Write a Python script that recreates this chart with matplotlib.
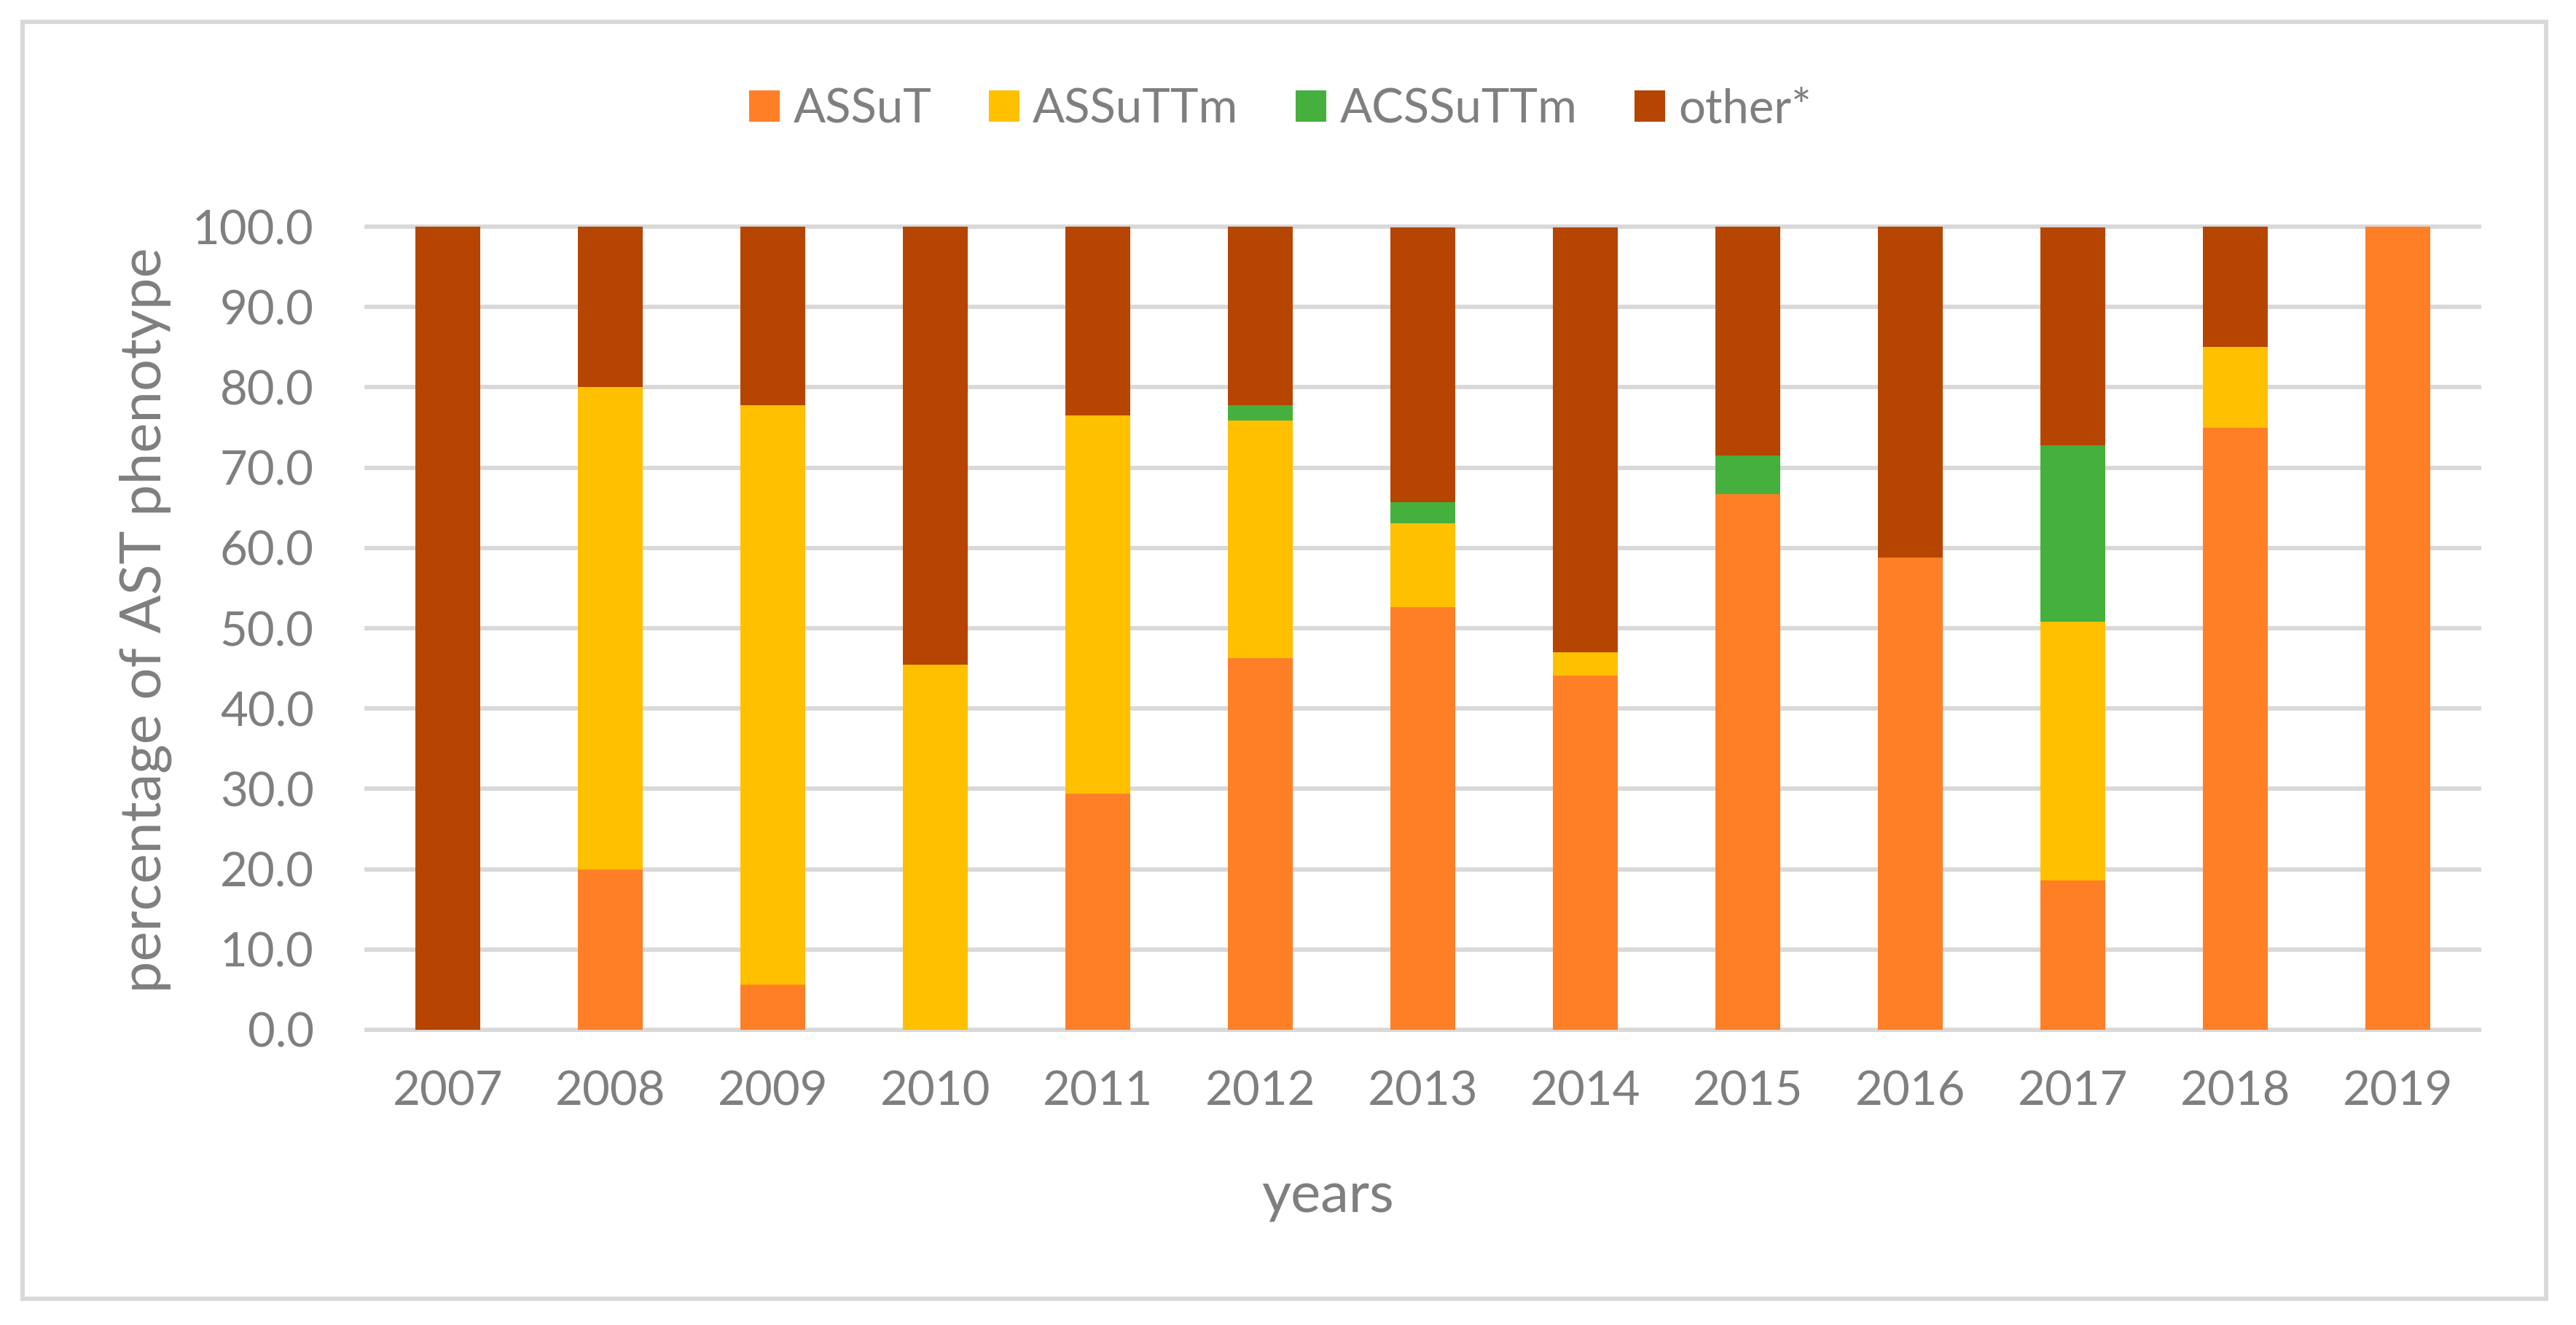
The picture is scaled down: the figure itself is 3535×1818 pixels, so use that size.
import matplotlib
matplotlib.use("Agg")
import matplotlib.pyplot as plt
import numpy as np
from matplotlib.patches import Rectangle

# data (percent of isolates per year)
years = ["2007", "2008", "2009", "2010", "2011", "2012", "2013",
         "2014", "2015", "2016", "2017", "2018", "2019"]
assut = [0, 20.0, 5.6, 0, 29.4, 46.3, 52.6, 44.1, 66.7, 58.8, 18.6, 75.0, 100.0]
assuttm = [0, 60.0, 72.2, 45.5, 47.1, 29.6, 10.5, 2.9, 0, 0, 32.2, 10.0, 0]
acssuttm = [0, 0, 0, 0, 0, 1.9, 2.6, 0, 4.8, 0, 22.0, 0, 0]
other = [100.0, 20.0, 22.2, 54.5, 23.5, 22.2, 34.2, 52.9, 28.6, 41.2, 27.1, 15.0, 0]

series_names = ["ASSuT", "ASSuTTm", "ACSSuTTm", "other*"]
series_colors = ["#FF7F27", "#FFC000", "#45B03D", "#B54500"]

txt_col = "#7F7F7F"
grid_col = "#D9D9D9"

plt.rcParams["font.family"] = ["Lato", "DejaVu Sans"]

fig = plt.figure(figsize=(35.35, 18.18), dpi=100)
fig.patch.set_facecolor("white")

# chart border like the excel chart area
fig.patches.append(Rectangle((0.00877, 0.0198), 0.9796, 0.9637, transform=fig.transFigure,
                             fill=False, edgecolor=grid_col, linewidth=4.3))

ax = fig.add_axes([0.1423, 0.2228, 0.8201, 0.6061])

x = np.arange(len(years))
bottom = np.zeros(len(years))
for name, vals, col in zip(series_names, [assut, assuttm, acssuttm, other], series_colors):
    vals = np.array(vals, dtype=float)
    ax.bar(x, vals, width=0.4, bottom=bottom, color=col, label=name, linewidth=0, zorder=3)
    bottom = bottom + vals

ax.set_xlim(-0.5, len(years) - 0.5)
ax.set_ylim(0, 100)
ax.set_yticks(np.arange(0, 101, 10))
ax.set_yticklabels(["%.1f" % v for v in np.arange(0, 101, 10)])
ax.set_xticks(x)
ax.set_xticklabels(years)

ax.tick_params(axis="y", length=0, pad=52, labelsize=47, labelcolor=txt_col)
ax.tick_params(axis="x", length=0, pad=40, labelsize=47, labelcolor=txt_col)

for sp in ax.spines.values():
    sp.set_visible(False)

ax.set_axisbelow(True)
ax.yaxis.grid(True, color=grid_col, linewidth=4.3)
for gl in ax.get_ygridlines():
    gl.set_clip_on(False)

ax.set_ylabel("percentage of AST phenotype", fontsize=56, color=txt_col)
ax.yaxis.label.set_va("center")
ax.yaxis.set_label_coords(-0.1045, 0.51)

ax.set_xlabel("years", fontsize=56, color=txt_col)
ax.xaxis.label.set_va("baseline")
ax.xaxis.set_label_coords(0.455, -0.227)

fig.legend(loc="center", bbox_to_anchor=(0.497, 1 - 150 / 1818), ncol=4, frameon=False,
           fontsize=47, labelcolor=txt_col, handlelength=0.65, handleheight=0.65,
           handletextpad=0.28, columnspacing=1.2)

fig.savefig("out.png", dpi=100, facecolor="white")
